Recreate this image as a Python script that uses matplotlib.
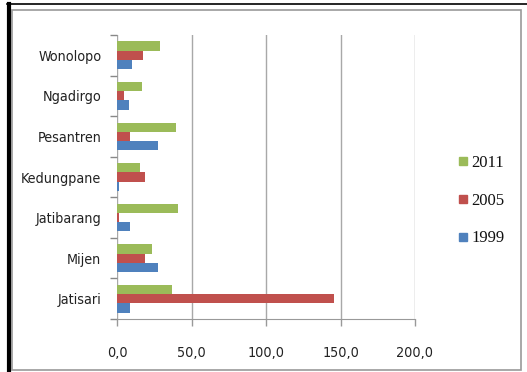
import matplotlib
matplotlib.use("Agg")
import matplotlib.pyplot as plt
from matplotlib.patches import Rectangle
from matplotlib.lines import Line2D
from matplotlib import font_manager

# data per kelurahan (top to bottom on the chart)
kelurahan = ["Wonolopo", "Ngadirgo", "Pesantren", "Kedungpane", "Jatibarang", "Mijen", "Jatisari"]
v1999 = [9.9, 7.9, 27.3, 1.0, 8.5, 27.3, 8.5]
v2005 = [17.5, 4.5, 8.5, 18.8, 1.1, 18.4, 145.8]
v2011 = [28.7, 16.8, 39.2, 15.5, 41.0, 23.5, 36.5]
years = ["1999", "2005", "2011"]
xticks = [0, 50, 100, 150, 200]
xlabels = ["0,0", "50,0", "100,0", "150,0", "200,0"]

c_blue = "#4F81BD"
c_red = "#C0504D"
c_green = "#9BBB59"

# DejaVu Sans Condensed (regular) for the axis labels
cond = [f for f in font_manager.fontManager.ttflist
        if f.fname.endswith("DejaVuSansCondensed.ttf")]
label_prop = font_manager.FontProperties(fname=cond[0].fname) if cond else \
    font_manager.FontProperties(family="DejaVu Sans")
label_prop.set_size(10.3)

fig = plt.figure(figsize=(5.27, 3.72), dpi=100)
ax = fig.add_axes([117.3 / 527, 1 - 319 / 372, (415 - 117.3) / 527, (319 - 35) / 372])

# reverse so the first name sits at the top
cats = kelurahan[::-1]
y = list(range(len(cats)))
h = 0.227
ax.barh([i - h for i in y], v1999[::-1], height=h, color=c_blue, zorder=3)
ax.barh(y, v2005[::-1], height=h, color=c_red, zorder=3)
ax.barh([i + h for i in y], v2011[::-1], height=h, color=c_green, zorder=3)

ax.set_xlim(0, 200)
ax.set_ylim(-0.5, len(cats) - 0.5)
ax.set_xticks(xticks)
ax.set_xticklabels(xlabels, fontproperties=label_prop, color="#222222")
ax.set_yticks(y)
ax.set_yticklabels(cats, fontproperties=label_prop, color="#222222")
ax.set_yticks([i - 0.5 for i in range(len(cats) + 1)], minor=True)
ax.tick_params(axis="y", which="major", length=0, pad=11.5)
ax.tick_params(axis="y", which="minor", length=5, color="#888888", width=1)
ax.tick_params(axis="x", length=5, color="#999999", width=1, pad=14.5)

ax.grid(axis="x", color="#a8a8a8", linewidth=1, zorder=0)
for side in ["top", "right", "left"]:
    ax.spines[side].set_visible(False)
ax.spines["bottom"].set_color("#999999")

handles = [Line2D([], [], marker="s", linestyle="", markersize=6, color=c)
           for c in (c_green, c_red, c_blue)]
fig.legend(handles, ["2011", "2005", "1999"], loc="upper left",
           bbox_to_anchor=(444 / 527, 1 - 140 / 372), frameon=False,
           prop={"family": "Liberation Serif", "size": 12},
           labelspacing=1.3, handlelength=0.5, handletextpad=0.25,
           labelcolor="#111111")

# page border around the chart
fig.add_artist(Rectangle((12 / 527, 1 - 370 / 372), (521 - 12) / 527, (370 - 10) / 372,
                         transform=fig.transFigure, fill=False, edgecolor="#9a9a9a", linewidth=1.2))
fig.add_artist(Line2D([9 / 527, 9 / 527], [0, 1 - 4 / 372], transform=fig.transFigure,
                      color="black", linewidth=3))
fig.add_artist(Line2D([7 / 527, 1], [1 - 4 / 372, 1 - 4 / 372], transform=fig.transFigure,
                      color="black", linewidth=1.2))

fig.savefig("out.png", dpi=100)
